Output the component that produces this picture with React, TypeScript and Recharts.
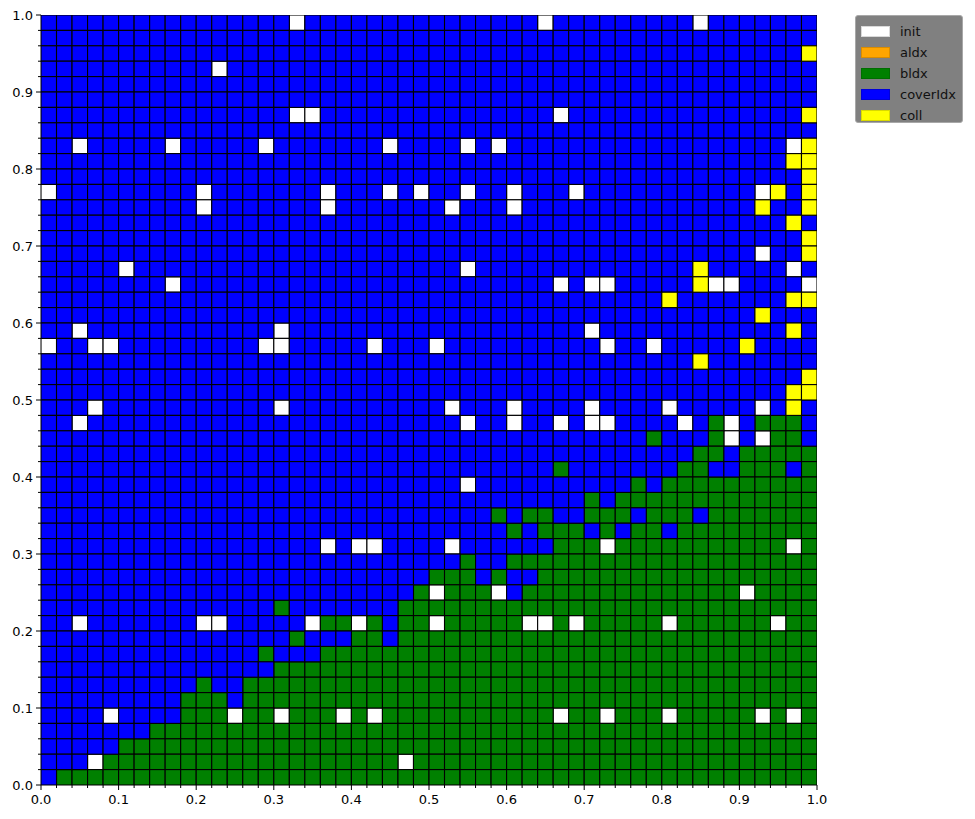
import React from 'react';
import { ScatterChart, Scatter, XAxis, YAxis } from 'recharts';

// ---- data ----
const legendLabels = ['init', 'aldx', 'bldx', 'coverIdx', 'coll'];
const legendColors = ['#ffffff', '#ffa500', '#008000', '#0000ff', '#ffff00'];
// cell code -> legend label
const codeKinds: Record<string, string> = { W: 'init', A: 'aldx', G: 'bldx', B: 'coverIdx', Y: 'coll' };
const cellSize = 0.02;
const majorTicks = [0, 0.1, 0.2, 0.3, 0.4, 0.5, 0.6, 0.7, 0.8, 0.9, 1.0];
// grid rows from top (y = 1.0) to bottom (y = 0.0), columns from x = 0.0 to 1.0
const gridRows = [
  'BBBBBBBBBB BBBBBBWBBB BBBBBBBBBB BBWBBBBBBB BBWBBBBBBB',
  'BBBBBBBBBB BBBBBBBBBB BBBBBBBBBB BBBBBBBBBB BBBBBBBBBB',
  'BBBBBBBBBB BBBBBBBBBB BBBBBBBBBB BBBBBBBBBB BBBBBBBBBY',
  'BBBBBBBBBB BWBBBBBBBB BBBBBBBBBB BBBBBBBBBB BBBBBBBBBB',
  'BBBBBBBBBB BBBBBBBBBB BBBBBBBBBB BBBBBBBBBB BBBBBBBBBB',
  'BBBBBBBBBB BBBBBBBBBB BBBBBBBBBB BBBBBBBBBB BBBBBBBBBB',
  'BBBBBBBBBB BBBBBBWWBB BBBBBBBBBB BBBWBBBBBB BBBBBBBBBY',
  'BBBBBBBBBB BBBBBBBBBB BBBBBBBBBB BBBBBBBBBB BBBBBBBBBB',
  'BBWBBBBBWB BBBBWBBBBB BBWBBBBWBW BBBBBBBBBB BBBBBBBBWY',
  'BBBBBBBBBB BBBBBBBBBB BBBBBBBBBB BBBBBBBBBB BBBBBBBBYY',
  'BBBBBBBBBB BBBBBBBBBB BBBBBBBBBB BBBBBBBBBB BBBBBBBBBY',
  'WBBBBBBBBB WBBBBBBBWB BBWBWBBWBB WBBBWBBBBB BBBBBBWYBY',
  'BBBBBBBBBB WBBBBBBBWB BBBBBBWBBB WBBBBBBBBB BBBBBBYBBY',
  'BBBBBBBBBB BBBBBBBBBB BBBBBBBBBB BBBBBBBBBB BBBBBBBBYB',
  'BBBBBBBBBB BBBBBBBBBB BBBBBBBBBB BBBBBBBBBB BBBBBBBBBY',
  'BBBBBBBBBB BBBBBBBBBB BBBBBBBBBB BBBBBBBBBB BBBBBBWBBY',
  'BBBBBWBBBB BBBBBBBBBB BBBBBBBWBB BBBBBBBBBB BBYBBBBBWB',
  'BBBBBBBBWB BBBBBBBBBB BBBBBBBBBB BBBWBWWBBB BBYWWBBBBW',
  'BBBBBBBBBB BBBBBBBBBB BBBBBBBBBB BBBBBBBBBB YBBBBBBBYY',
  'BBBBBBBBBB BBBBBBBBBB BBBBBBBBBB BBBBBBBBBB BBBBBBYBBB',
  'BBWBBBBBBB BBBBBWBBBB BBBBBBBBBB BBBBBWBBBB BBBBBBBBYB',
  'WBBWWBBBBB BBBBWWBBBB BWBBBWBBBB BBBBBBWBBW BBBBBYBBBB',
  'BBBBBBBBBB BBBBBBBBBB BBBBBBBBBB BBBBBBBBBB BBYBBBBBBB',
  'BBBBBBBBBB BBBBBBBBBB BBBBBBBBBB BBBBBBBBBB BBBBBBBBBY',
  'BBBBBBBBBB BBBBBBBBBB BBBBBBBBBB BBBBBBBBBB BBBBBBBBYY',
  'BBBWBBBBBB BBBBBWBBBB BBBBBBWBBB WBBBBWBBBB WBBBBBWBYB',
  'BBWBBBBBBB BBBBBBBBBB BBBBBBBWBB WBBWBWWBBB BWBGWBGGGB',
  'BBBBBBBBBB BBBBBBBBBB BBBBBBBBBB BBBBBBBBBG BBBGWBWGGB',
  'BBBBBBBBBB BBBBBBBBBB BBBBBBBBBB BBBBBBBBBB BBGGBGGGGG',
  'BBBBBBBBBB BBBBBBBBBB BBBBBBBBBB BBBGBBBBBB BGGBBGGGBG',
  'BBBBBBBBBB BBBBBBBBBB BBBBBBBWBB BBBBBBBBGB GGGGGGGGGG',
  'BBBBBBBBBB BBBBBBBBBB BBBBBBBBBB BBBBBGBGGG GGGGGGGGGG',
  'BBBBBBBBBB BBBBBBBBBB BBBBBBBBBG BGGBBGGGBG GGBGGGGGGG',
  'BBBBBBBBBB BBBBBBBBBB BBBBBBBBBB GBGGGBGBGG BGGGGGGGGG',
  'BBBBBBBBBB BBBBBBBBWB WWBBBBWBBB BBBGGGWGGG GGGGGGGGWG',
  'BBBBBBBBBB BBBBBBBBBB BBBBBBBGBB GGGGGGGGGG GGGGGGGGGG',
  'BBBBBBBBBB BBBBBBBBBB BBBBBGGGBG BBGGGGGGGG GGGGGGGGGG',
  'BBBBBBBBBB BBBBBBBBBB BBBBGWGGGW BGGGGGGGGG GGGGGWGGGG',
  'BBBBBBBBBB BBBBBGBBBB BBBGGGGGGG GGGGGGGGGG GGGGGGGGGG',
  'BBWBBBBBBB WWBBBBBWGG WGBGGWGGGG GWWGWGGGGG WGGGGGGWGG',
  'BBBBBBBBBB BBBBBBGBBB GGBGGGGGGG GGGGGGGGGG GGGGGGGGGG',
  'BBBBBBBBBB BBBBGBBBGG GGGGGGGGGG GGGGGGGGGG GGGGGGGGGG',
  'BBBBBBBBBB BBBBBGGGGG GGGGGGGGGG GGGGGGGGGG GGGGGGGGGG',
  'BBBBBBBBBB GBBGGGGGGG GGGGGGGGGG GGGGGGGGGG GGGGGGGGGG',
  'BBBBBBBBBG GGBGGGGGGG GGGGGGGGGG GGGGGGGGGG GGGGGGGGGG',
  'BBBBWBBBBG GGWGGWGGGW GWGGGGGGGG GGGWGGWGGG WGGGGGWGWG',
  'BBBBBBBGGG GGGGGGGGGG GGGGGGGGGG GGGGGGGGGG GGGGGGGGGG',
  'BBBBBGGGGG GGGGGGGGGG GGGGGGGGGG GGGGGGGGGG GGGGGGGGGG',
  'BBBWGGGGGG GGGGGGGGGG GGGWGGGGGG GGGGGGGGGG GGGGGGGGGG',
  'BGGGGGGGGG GGGGGGGGGG GGGGGGGGGG GGGGGGGGGG GGGGGGGGGG',
];

// ---- layout ----
const W = 960;
const H = 810;
const MARGIN = { top: 7, right: 151, bottom: 8, left: 0 };
const Y_AXIS_W = 33;
const X_AXIS_H = 25;
const PLOT_W = W - MARGIN.left - MARGIN.right - Y_AXIS_W;
const PLOT_H = H - MARGIN.top - MARGIN.bottom - X_AXIS_H;
const NCOLS = gridRows[0].replace(/ /g, '').length;
const NROWS = gridRows.length;
const CW = PLOT_W / NCOLS;
const CH = PLOT_H / NROWS;
const FONT = '"DejaVu Sans", sans-serif';

type Cell = { x: number; y: number; kind: string };
const cells: Cell[] = [];
gridRows.forEach((row, r) => {
  row.replace(/ /g, '').split('').forEach((ch, c) => {
    cells.push({
      x: c * cellSize + cellSize / 2,
      y: 1 - (r + 1) * cellSize + cellSize / 2,
      kind: codeKinds[ch],
    });
  });
});

const allTicks: number[] = [];
for (let i = 0; i <= NCOLS; i++) allTicks.push(Math.round(i * cellSize * 1000) / 1000);
const isMajor = (v: number) => majorTicks.some((m) => Math.abs(m - v) < 1e-6);

const XTick = (props: any) => {
  const { x, y, payload } = props;
  const v = payload.value as number;
  const major = isMajor(v);
  return (
    <g>
      <line x1={x} x2={x} y1={y} y2={y + (major ? 5 : 3)} stroke="#000" strokeWidth={1} />
      {major && (
        <text x={x} y={y + 19} textAnchor="middle" fontFamily={FONT} fontSize={13} fill="#000">
          {v.toFixed(1)}
        </text>
      )}
    </g>
  );
};

const YTick = (props: any) => {
  const { x, y, payload } = props;
  const v = payload.value as number;
  const major = isMajor(v);
  return (
    <g>
      <line x1={x} x2={x - (major ? 5 : 3)} y1={y} y2={y} stroke="#000" strokeWidth={1} />
      {major && (
        <text x={x - 8} y={y + 5} textAnchor="end" fontFamily={FONT} fontSize={13} fill="#000">
          {v.toFixed(1)}
        </text>
      )}
    </g>
  );
};

const makeShape = (color: string) => (props: any) => {
  const { cx, cy } = props;
  return (
    <rect
      x={cx - CW / 2}
      y={cy - CH / 2}
      width={CW}
      height={CH}
      fill={color}
      stroke="#000"
      strokeWidth={1.1}
    />
  );
};

const Legend = () => (
  <div
    style={{
      position: 'absolute',
      left: 847,
      top: 7,
      width: 108,
      height: 108,
      background: '#808080',
      border: '1px solid #a8a8a8',
      borderRadius: 3,
      boxSizing: 'border-box',
      paddingTop: 5,
      fontFamily: FONT,
      fontSize: 13,
      color: '#111',
    }}
  >
    {legendLabels.map((lab, i) => (
      <div key={lab} style={{ display: 'flex', alignItems: 'center', height: 21 }}>
        <div
          style={{
            marginLeft: 5,
            width: 29,
            height: 11,
            background: legendColors[i],
            boxSizing: 'border-box',
            border: '1px solid rgba(0,0,0,0.15)',
          }}
        />
        <span style={{ marginLeft: 10 }}>{lab}</span>
      </div>
    ))}
  </div>
);

export default function App() {
  return (
    <div style={{ position: 'relative', width: W, height: H }}>
      <ScatterChart width={W} height={H} margin={MARGIN}>
        <XAxis
          type="number"
          dataKey="x"
          domain={[0, 1]}
          ticks={allTicks}
          interval={0}
          height={X_AXIS_H}
          tickSize={0}
          tickMargin={0}
          tickLine={false}
          axisLine={{ stroke: '#000' }}
          tick={<XTick />}
          allowDataOverflow
        />
        <YAxis
          type="number"
          dataKey="y"
          domain={[0, 1]}
          ticks={allTicks}
          interval={0}
          width={Y_AXIS_W}
          tickSize={0}
          tickMargin={0}
          tickLine={false}
          axisLine={{ stroke: '#000' }}
          tick={<YTick />}
          allowDataOverflow
        />
        {legendLabels.map((lab, i) => (
          <Scatter
            key={lab}
            name={lab}
            data={cells.filter((d) => d.kind === lab)}
            shape={makeShape(legendColors[i])}
            isAnimationActive={false}
          />
        ))}
      </ScatterChart>
      <Legend />
    </div>
  );
}
